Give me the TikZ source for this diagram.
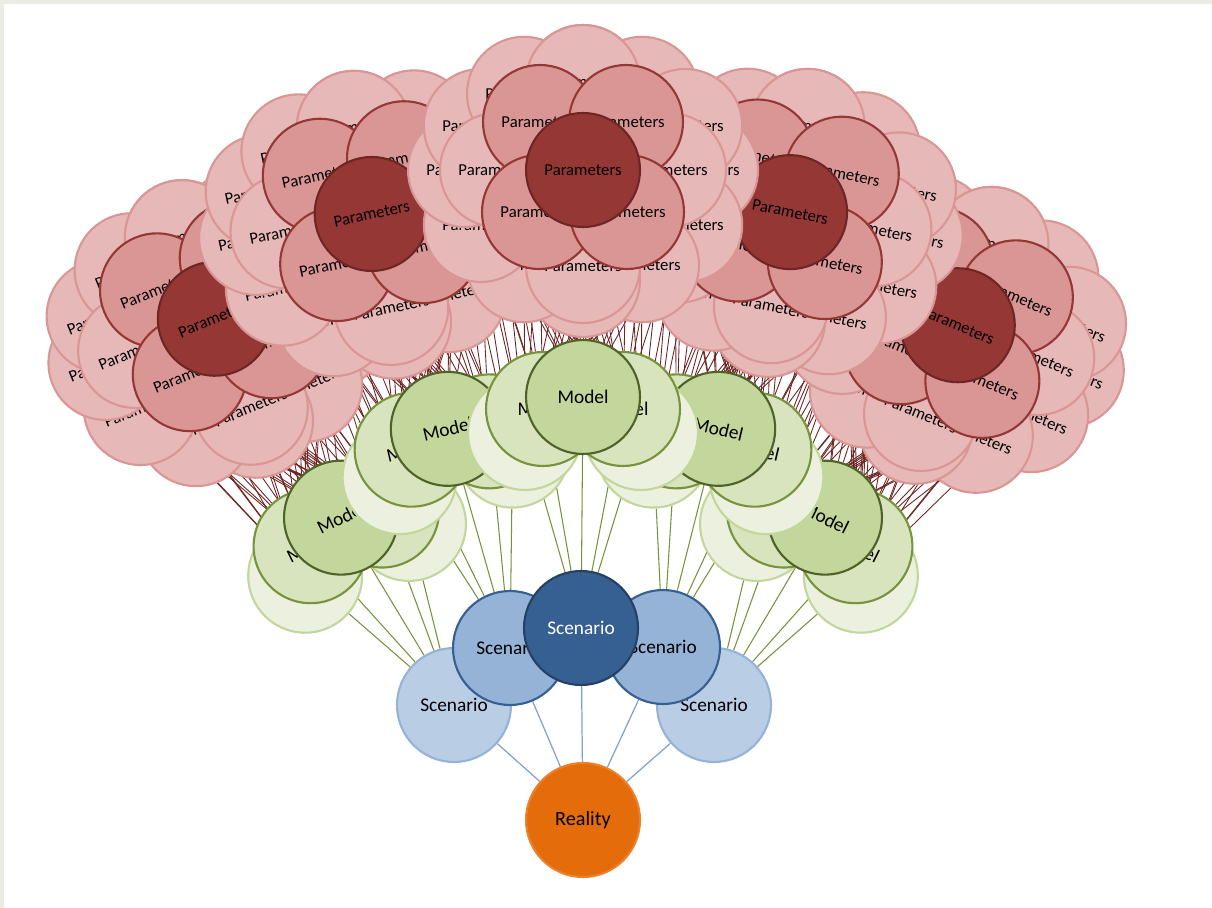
\documentclass[tikz,border=0pt]{standalone}
\usepackage{fontspec}
\setmainfont{Carlito}
\pgfdeclarelayer{bg}
\pgfsetlayers{bg,main}
\definecolor{framegray}{HTML}{ECECE4}
\definecolor{realfill}{HTML}{E46C0A}
\definecolor{realline}{HTML}{EA812C}
\definecolor{scenA}{HTML}{366092}
\definecolor{scenAline}{HTML}{244062}
\definecolor{scenB}{HTML}{95B3D7}
\definecolor{scenC}{HTML}{B9CDE5}
\definecolor{modA}{HTML}{C3D69B}
\definecolor{modAline}{HTML}{4F6228}
\definecolor{modB}{HTML}{D7E4BD}
\definecolor{modBline}{HTML}{77933C}
\definecolor{modC}{HTML}{EBF1DE}
\definecolor{parA}{HTML}{953735}
\definecolor{parAline}{HTML}{6E2624}
\definecolor{parB}{HTML}{D99694}
\definecolor{parC}{HTML}{E6B9B8}
\tikzset{
  bubble/.style={circle, draw, line width=1.2pt, minimum size=2.28cm, inner sep=0pt},
  realbox/.style={bubble, fill=realfill, draw=realline, font=\fontsize{11.5}{13}\selectfont},
  scenfront/.style={bubble, fill=scenA, draw=scenAline, text=white, font=\fontsize{11}{13}\selectfont},
  scenmid/.style={bubble, fill=scenB, draw=scenA, font=\fontsize{11}{13}\selectfont},
  scenback/.style={bubble, fill=scenC, draw=scenB, font=\fontsize{11}{13}\selectfont},
  modfront/.style={bubble, fill=modA, draw=modAline, font=\fontsize{11}{13}\selectfont},
  modmid/.style={bubble, fill=modB, draw=modBline, font=\fontsize{11}{13}\selectfont},
  modback/.style={bubble, fill=modC, draw=modA, font=\fontsize{11}{13}\selectfont},
  parfront/.style={bubble, fill=parA, draw=parAline, font=\fontsize{9.5}{11}\selectfont},
  parmid/.style={bubble, fill=parB, draw=parA, font=\fontsize{9.5}{11}\selectfont},
  parback/.style={bubble, fill=parC, draw=parB, font=\fontsize{9.5}{11}\selectfont},
  scenlink/.style={draw=scenB!80!scenA, line width=0.7pt},
  modlink/.style={draw=modBline, line width=0.6pt},
  parlink/.style={draw=parAline, line width=0.5pt},
}

\begin{document}
\begin{tikzpicture}[x=0.02cm, y=-0.02cm]
  \useasboundingbox (0,0) rectangle (1212,908);
  \begin{pgfonlayer}{bg}
    \fill[framegray] (0,0) rectangle (1212,908);
    \fill[white] (4,4) rectangle (1212,908);
  \end{pgfonlayer}

  % parameter clusters, outer ones first
  \foreach \k/\ang in {1/134, 5/45, 2/113.5, 4/67, 3/90} {
    \begin{scope}[shift={({583+530*cos(\ang)},{700-530*sin(\ang)})}, rotate={(\ang-90)/2}, transform shape]
      \foreach \x/\y [count=\i] in {-100/-40, 100/-40, -100/50, 100/50}
        \node[parmid] (p\k-h\i) at (\x,\y) {Parameters};
      \foreach \t [count=\i] in {0,30,...,330}
        \node[parback] (p\k-o\i) at ({118*cos(\t)},{ifthenelse(sin(\t)>0,110,88)*sin(\t)}) {Parameters};
      \foreach \x/\y [count=\i] in {-86/0, 86/0, 0/-88, 0/96}
        \node[parback] (p\k-l\i) at (\x,\y) {Parameters};
      \foreach \x/\y [count=\i] in {-43/-48, 43/-48, -44/42, 44/42}
        \node[parmid] (p\k-m\i) at (\x,\y) {Parameters};
      \node[parfront] (p\k-c) at (0,0) {Parameters};
    \end{scope}
  }

  % model clusters
  \foreach \k/\ang in {1/143, 5/37, 2/116.5, 4/63.5, 3/90} {
    \begin{scope}[shift={({583+303*cos(\ang)},{700-303*sin(\ang)})}, rotate={(\ang-90)/2}, transform shape]
      \node[modback] (m\k-1) at (-58,36) {Model};
      \node[modback] (m\k-2) at (58,36) {Model};
      \node[modmid] (m\k-3) at (-40,12) {Model};
      \node[modmid] (m\k-4) at (40,12) {Model};
      \node[modfront] (m\k-5) at (0,0) {Model};
    \end{scope}
  }

  % scenarios and reality
  \node[scenback] (s1) at (454,705) {Scenario};
  \node[scenback] (s5) at (714,705) {Scenario};
  \node[scenmid] (s2) at (510,648) {Scenario};
  \node[scenmid] (s4) at (663,647) {Scenario};
  \node[scenfront] (s3) at (581,628) {Scenario};
  \node[realbox] (reality) at (583,820) {Reality};

  \begin{pgfonlayer}{bg}
    \foreach \k in {1,...,5} {
      \draw[scenlink] (reality) -- (s\k);
      \foreach \j in {1,...,5} {
        \draw[modlink] (s\k) -- (m\k-\j);
        \foreach \p in {c,m3,m4,l1,l2,l4,h3,h4,o3,o5,o7}
          \draw[parlink] (m\k-\j) -- (p\k-\p);
      }
    }
  \end{pgfonlayer}
\end{tikzpicture}
\end{document}
